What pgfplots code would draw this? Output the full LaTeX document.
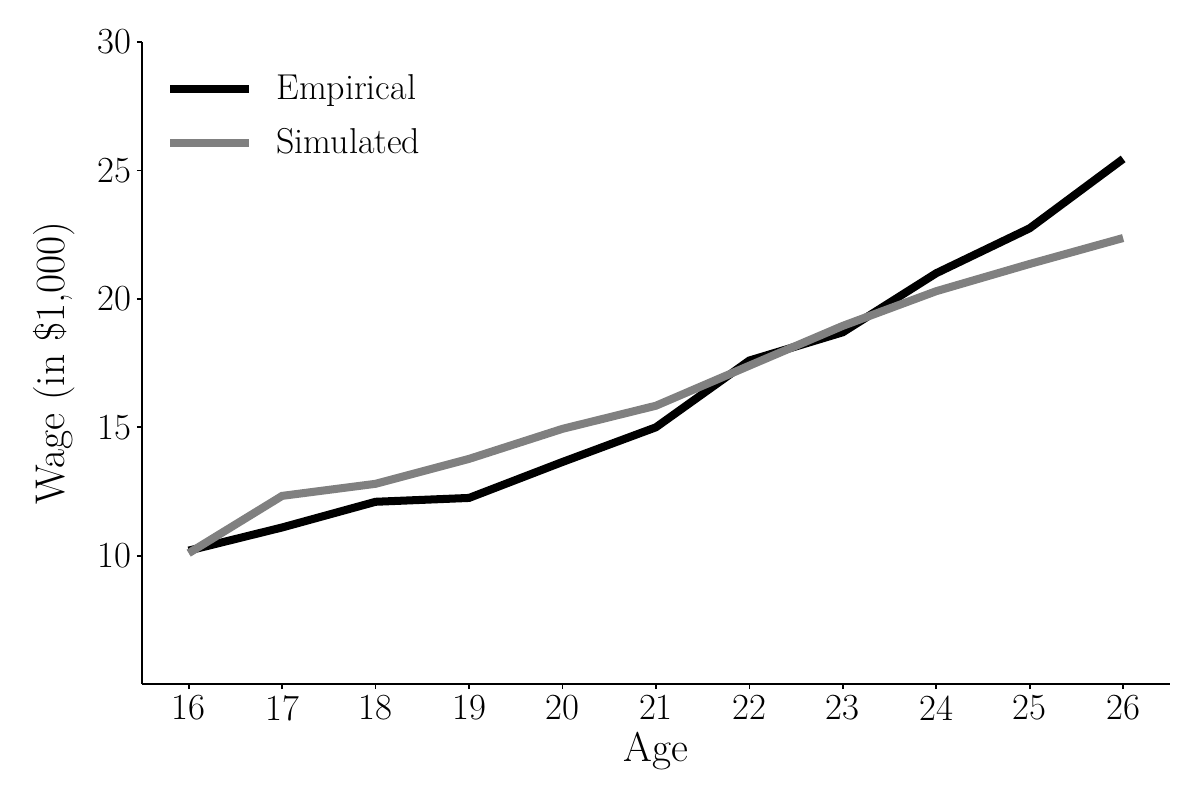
\documentclass[border=0pt]{standalone}
\usepackage{fontspec}
\setmainfont{lmroman17-regular.otf}
\usepackage{pgfplots}
\pgfplotsset{compat=1.18}
\definecolor{mgray}{HTML}{808080}
\begin{document}
\begin{tikzpicture}
\useasboundingbox (-51.3pt,-41.9pt) rectangle (382.3pt,247.2pt);
\begin{axis}[
  at={(0,0)}, anchor=origin,
  scale only axis, width=371.4pt, height=232pt,
  xmin=15.5, xmax=26.5, ymin=5, ymax=30,
  xtick={16,...,26}, ytick={10,15,20,25,30},
  /pgf/number format/assume math mode=true,
  axis lines*=left,
  axis line style={line width=0.6pt, -},
  tick style={line width=0.6pt, black},
  tick align=outside, major tick length=1.8pt,
  tick label style={font=\fontsize{13.3}{15}\selectfont},
  xticklabel style={yshift=1.2pt},
  yticklabel style={xshift=1.5pt},
  label style={font=\fontsize{15}{17}\selectfont},
  xlabel style={yshift=3pt},
  ylabel style={yshift=1.5pt},
  xlabel={Age}, ylabel={Wage (in \$1,000)},
  legend cell align=left,
  legend style={draw=none, fill=none, at={(0,1)}, anchor=north west, xshift=5.5pt, yshift=-7.5pt,
    font=\fontsize{13}{15}\selectfont, row sep=5pt, column sep=6.5pt},
  legend image code/.code={\draw[#1] (0pt,0pt) -- (28.5pt,0pt);},
]
\addplot[black, line width=2.9pt] coordinates {
(16,10.2) (17,11.1) (18,12.1) (19,12.25) (20,13.65) (21,15.0) (22,17.6) (23,18.7) (24,21.0) (25,22.75) (26,25.45)};
\addlegendentry{Empirical}
\addplot[mgray, line width=2.9pt] coordinates {
(16,10.1) (17,12.33) (18,12.8) (19,13.77) (20,14.94) (21,15.84) (22,17.4) (23,18.95) (24,20.3) (25,21.36) (26,22.37)};
\addlegendentry{Simulated}
\end{axis}
\end{tikzpicture}
\end{document}
